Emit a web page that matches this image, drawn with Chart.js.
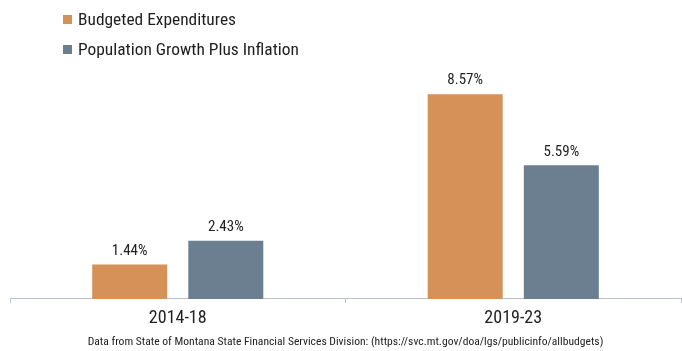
<!DOCTYPE html>
<html>
<head>
<meta charset="utf-8">
<script src="https://cdn.jsdelivr.net/npm/chart.js@4.4.1/dist/chart.umd.min.js"></script>
<style>
  html, body { margin: 0; padding: 0; background: #fff; }
  #wrap { position: relative; width: 682px; height: 351px; }
  #legend { position: absolute; left: 63px; top: 8px; font-family: 'Roboto Condensed', 'Liberation Sans Narrow', 'Arial Narrow', Roboto, sans-serif; font-size: 17.4px; color: #1e1e1e; }
  #legend div { height: 30px; line-height: 22px; white-space: nowrap; }
  #legend span { display: inline-block; width: 9px; height: 9px; margin-right: 6px; vertical-align: 1px; }
</style>
</head>
<body>
<div id="wrap">
  <canvas id="budgetChart" width="682" height="351"></canvas>
  <div id="legend"></div>
</div>
<script>
const periods = ["2014-18", "2019-23"];
const budgetedExpenditures = [1.44, 8.57];
const popGrowthInflation = [2.43, 5.59];
const seriesNames = ["Budgeted Expenditures", "Population Growth Plus Inflation"];
const seriesColors = ["#d59157", "#6b7f91"];
const sourceNote = "Data from State of Montana State Financial Services Division: (https://svc.mt.gov/doa/lgs/publicinfo/allbudgets)";

const fontFamily = "'Roboto Condensed', 'Liberation Sans Narrow', 'Arial Narrow', Roboto, sans-serif";

// legend list on top left
let legendBox = document.getElementById("legend");
seriesNames.forEach((name, i) => {
    let row = document.createElement("div");
    let sw = document.createElement("span");
    sw.style.background = seriesColors[i];
    row.appendChild(sw);
    row.appendChild(document.createTextNode(name));
    legendBox.appendChild(row);
});

// percent labels above each bar
const barValueLabels = {
    id: "barValueLabels",
    afterDatasetsDraw(chart) {
        let ctx = chart.ctx;
        ctx.save();
        ctx.font = "15px " + fontFamily;
        ctx.fillStyle = "#222";
        ctx.textAlign = "center";
        ctx.textBaseline = "bottom";
        chart.data.datasets.forEach((ds, di) => {
            chart.getDatasetMeta(di).data.forEach((bar, i) => {
                ctx.fillText(ds.data[i].toFixed(2) + "%", bar.x, bar.y - 6);
            });
        });
        ctx.restore();
    }
};

new Chart(document.getElementById("budgetChart").getContext("2d"), {
    type: "bar",
    data: {
        labels: periods,
        datasets: [
            { label: seriesNames[0], data: budgetedExpenditures, backgroundColor: seriesColors[0] },
            { label: seriesNames[1], data: popGrowthInflation, backgroundColor: seriesColors[1] }
        ]
    },
    options: {
        responsive: false,
        animation: false,
        categoryPercentage: 0.573,
        barPercentage: 0.78,
        layout: { padding: { top: 60, left: 10, right: 1, bottom: 2 } },
        plugins: {
            legend: { display: false },
            tooltip: { enabled: false },
            title: {
                display: true,
                position: "bottom",
                text: sourceNote,
                color: "#222",
                font: { family: fontFamily, size: 11.6, weight: "normal" },
                padding: { top: 0, bottom: 0 }
            }
        },
        scales: {
            x: {
                border: { display: true, color: "#b8c2cc", width: 1 },
                grid: { display: true, drawOnChartArea: false, drawTicks: true, tickLength: 4, color: "#b8c2cc" },
                ticks: { color: "#222", padding: 8, font: { family: fontFamily, size: 18, lineHeight: 0.9 } }
            },
            y: {
                display: false,
                min: 0,
                max: 10
            }
        }
    },
    plugins: [barValueLabels]
});
</script>
</body>
</html>
